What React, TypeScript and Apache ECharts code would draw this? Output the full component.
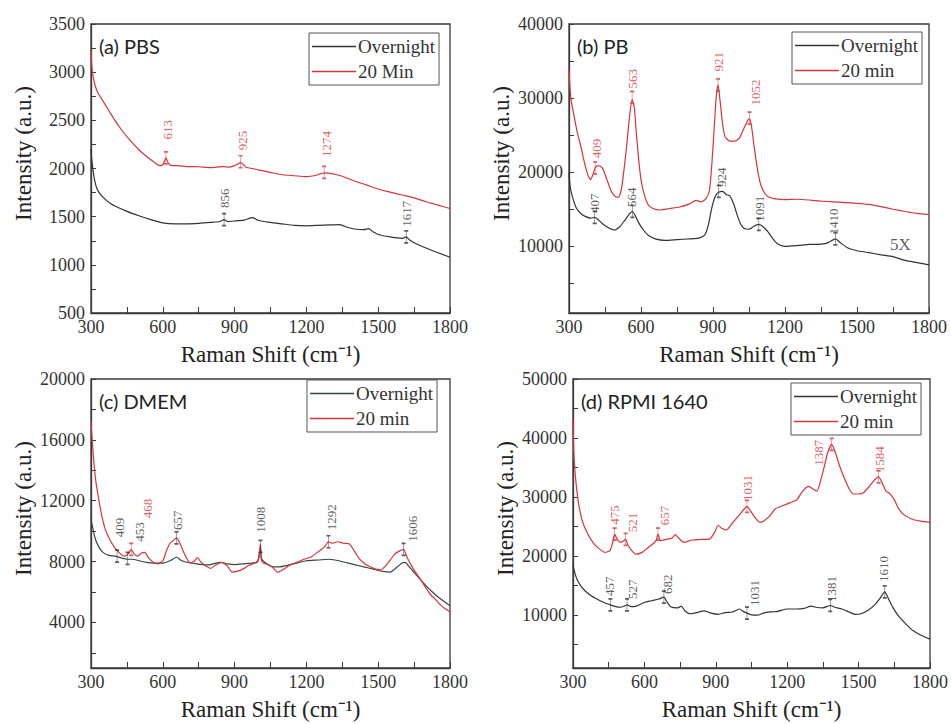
import React, { useEffect, useRef } from "react";
import * as echarts from "echarts";

// ---------- Data ----------
const xTicks = [300, 600, 900, 1200, 1500, 1800];

// (a) PBS
const pbsMin20: number[][] = [
  [300, 3220], [305, 3020], [315, 2880], [330, 2780], [350, 2700], [375, 2600], [400, 2500], [425, 2410],
  [450, 2330], [475, 2260], [500, 2195], [525, 2140], [550, 2090], [575, 2045], [590, 2030], [600, 2040],
  [607, 2080], [613, 2110], [620, 2070], [630, 2035], [650, 2030], [700, 2020], [750, 2018], [800, 2010],
  [850, 2020], [880, 2015], [900, 2030], [915, 2050], [925, 2060], [935, 2045], [950, 2010], [975, 2000],
  [1000, 1985], [1050, 1960], [1100, 1935], [1150, 1925], [1200, 1915], [1240, 1930], [1274, 1955],
  [1300, 1950], [1350, 1920], [1400, 1870], [1450, 1830], [1500, 1785], [1550, 1755], [1600, 1725],
  [1650, 1695], [1700, 1655], [1750, 1620], [1800, 1585],
];
const pbsOvernight: number[][] = [
  [300, 2200], [303, 2100], [308, 1990], [315, 1880], [325, 1790], [340, 1730], [360, 1680], [380, 1640],
  [400, 1610], [450, 1555], [500, 1510], [550, 1470], [600, 1435], [650, 1425], [700, 1425], [750, 1430],
  [800, 1440], [840, 1450], [856, 1470], [870, 1450], [900, 1455], [940, 1465], [975, 1490], [1000, 1460],
  [1050, 1440], [1100, 1425], [1150, 1410], [1200, 1405], [1250, 1410], [1300, 1415], [1340, 1418],
  [1370, 1390], [1400, 1372], [1440, 1365], [1460, 1375], [1480, 1340], [1500, 1315], [1550, 1290],
  [1600, 1275], [1617, 1290], [1630, 1260], [1650, 1230], [1700, 1175], [1750, 1125], [1800, 1080],
];
const pbsYLabels = [500, 1000, 1500, 2000, 2500, 3000, 3500];
const pbsYTicks = [500, 750, 1000, 1250, 1500, 1750, 2000, 2250, 2500, 2750, 3000, 3250, 3500];

// (b) PB
const pbMin20: number[][] = [
  [300, 33800], [305, 31000], [310, 29500], [320, 27800], [335, 25300], [350, 23400], [365, 21200],
  [380, 19500], [390, 19000], [400, 19700], [409, 20600], [420, 20900], [435, 20700], [445, 20200],
  [460, 18800], [475, 17500], [490, 16800], [505, 16600], [515, 17200], [525, 19200], [540, 23500],
  [550, 26800], [563, 29800], [572, 28800], [580, 25500], [590, 21800], [600, 19000], [615, 16800],
  [630, 15600], [650, 15100], [680, 14900], [720, 15100], [760, 15300], [800, 15700], [830, 16200],
  [850, 16000], [870, 16400], [885, 17500], [895, 21000], [905, 26000], [913, 30000], [921, 31800],
  [930, 29500], [940, 26500], [950, 24800], [970, 24200], [990, 24200], [1010, 24600], [1030, 26000],
  [1045, 27000], [1052, 27200], [1060, 26300], [1070, 23800], [1080, 21500], [1090, 19500], [1100, 18200],
  [1115, 17200], [1130, 16700], [1160, 16400], [1200, 16300], [1250, 16350], [1300, 16250], [1350, 16100],
  [1400, 16000], [1450, 15900], [1500, 15800], [1550, 15650], [1600, 15350], [1650, 15000], [1700, 14700],
  [1750, 14450], [1800, 14300],
];
const pbOvernight: number[][] = [
  [300, 19900], [305, 18000], [315, 16600], [330, 15200], [350, 14400], [370, 14000], [390, 13800],
  [407, 13900], [425, 13500], [445, 12900], [470, 12400], [490, 12200], [510, 12600], [530, 13400],
  [550, 14300], [564, 14700], [575, 14200], [590, 13200], [610, 12200], [630, 11500], [660, 11000],
  [700, 10800], [750, 10900], [800, 11000], [840, 11100], [865, 11500], [880, 12800], [895, 15200],
  [910, 16800], [924, 17300], [940, 17400], [955, 17000], [970, 16800], [985, 15800], [1000, 14300],
  [1015, 13000], [1030, 12400], [1050, 12300], [1070, 12700], [1091, 12950], [1110, 12600], [1130, 11900],
  [1150, 11000], [1170, 10300], [1200, 10000], [1250, 10100], [1300, 10250], [1350, 10300], [1380, 10500],
  [1410, 11000], [1430, 10500], [1460, 9800], [1500, 9400], [1550, 9150], [1600, 8850], [1650, 8600],
  [1700, 8100], [1750, 7800], [1800, 7500],
];
const pbYLabels = [10000, 20000, 30000, 40000];
const pbYTicks = [5000, 10000, 15000, 20000, 25000, 30000, 35000, 40000];

// (c) DMEM
const dmemMin20: number[][] = [
  [300, 17200], [305, 16000], [312, 14500], [320, 13300], [330, 12300], [345, 11000], [360, 10100],
  [380, 9400], [400, 8900], [420, 8550], [440, 8350], [455, 8500], [468, 8800], [480, 8500], [495, 8350],
  [510, 8550], [525, 8600], [540, 8250], [560, 7950], [580, 7850], [600, 8050], [615, 8700], [630, 9200],
  [645, 9400], [657, 9550], [670, 9250], [685, 8700], [700, 8200], [715, 7900], [730, 8000], [745, 8250],
  [760, 7950], [780, 7700], [800, 7550], [820, 7750], [845, 7950], [870, 7700], [890, 7300], [920, 7400],
  [940, 7550], [960, 7750], [985, 7900], [1000, 8150], [1005, 8700], [1008, 9150], [1012, 8100],
  [1020, 7900], [1040, 7800], [1060, 7600], [1080, 7300], [1100, 7450], [1130, 7750], [1160, 7950],
  [1190, 8150], [1220, 8300], [1250, 8650], [1275, 8950], [1292, 9300], [1310, 9200], [1330, 9300],
  [1355, 9200], [1380, 9150], [1400, 8700], [1420, 8200], [1440, 7900], [1460, 7700], [1490, 7500],
  [1510, 7450], [1530, 7700], [1550, 8100], [1570, 8500], [1590, 8700], [1606, 8800], [1620, 8300],
  [1640, 7700], [1660, 7200], [1680, 6750], [1700, 6250], [1720, 5800], [1740, 5500], [1760, 5150],
  [1780, 4900], [1800, 4700],
];
const dmemOvernight: number[][] = [
  [300, 10800], [310, 10000], [320, 9400], [335, 8900], [350, 8600], [375, 8400], [400, 8350], [425, 8250],
  [450, 8150], [475, 8150], [500, 8050], [530, 7950], [560, 7900], [600, 7900], [630, 8050], [657, 8280],
  [680, 8050], [700, 7950], [740, 7850], [780, 7780], [800, 7800], [840, 7950], [870, 7850], [900, 7800],
  [940, 7850], [970, 7900], [995, 7950], [1004, 8600], [1008, 9000], [1012, 8200], [1030, 7900],
  [1060, 7650], [1090, 7650], [1120, 7750], [1160, 7900], [1200, 8050], [1250, 8100], [1292, 8150],
  [1320, 8100], [1360, 7950], [1400, 7800], [1440, 7650], [1480, 7500], [1520, 7350], [1550, 7300],
  [1580, 7650], [1600, 7900], [1612, 7950], [1630, 7650], [1660, 7100], [1700, 6400], [1730, 5950],
  [1760, 5550], [1800, 5100],
];
const dmemYLabels = [4000, 8000, 12000, 16000, 20000];
const dmemYTicks = [2000, 4000, 6000, 8000, 10000, 12000, 14000, 16000, 18000, 20000];

// (d) RPMI 1640
const rpmiMin20: number[][] = [
  [300, 43500], [303, 38000], [308, 34500], [315, 31500], [325, 28500], [340, 25800], [360, 23900],
  [385, 22200], [410, 21200], [435, 20600], [455, 20900], [465, 22000], [475, 23700], [485, 22900],
  [500, 22300], [510, 22500], [521, 22800], [530, 21900], [545, 21000], [565, 20300], [590, 20600],
  [615, 21400], [640, 22200], [650, 22700], [657, 23700], [668, 22600], [690, 22800], [715, 23000],
  [730, 23600], [745, 23000], [765, 22300], [800, 22700], [840, 22800], [875, 22900], [895, 24000],
  [910, 25200], [925, 24700], [945, 24400], [970, 25600], [1000, 27000], [1020, 28000], [1031, 28400],
  [1045, 27700], [1065, 26500], [1085, 25700], [1100, 25900], [1125, 26700], [1150, 28000], [1180, 28500],
  [1210, 29000], [1240, 29500], [1265, 31000], [1290, 31800], [1310, 31300], [1325, 31000], [1340, 32700],
  [1355, 35000], [1370, 37500], [1387, 38900], [1400, 37800], [1420, 35300], [1440, 33200], [1460, 31400],
  [1480, 30500], [1500, 30500], [1520, 30700], [1545, 31800], [1565, 32800], [1584, 33400], [1600, 32300],
  [1615, 31000], [1630, 30600], [1650, 29500], [1670, 27900], [1690, 27000], [1720, 26300], [1760, 25900],
  [1800, 25700],
];
const rpmiOvernight: number[][] = [
  [300, 18400], [310, 16800], [320, 15800], [335, 14800], [350, 14100], [375, 13300], [400, 12700],
  [430, 12100], [457, 11700], [480, 11400], [500, 11300], [515, 11500], [527, 11700], [545, 11400],
  [565, 11500], [600, 12100], [630, 12400], [660, 12700], [682, 13000], [695, 12200], [710, 11400],
  [740, 11200], [755, 11500], [770, 10700], [790, 10200], [820, 10400], [850, 10700], [880, 10300],
  [910, 10100], [940, 10400], [970, 10500], [1000, 11000], [1015, 10600], [1031, 10300], [1050, 10000],
  [1075, 9950], [1100, 10300], [1130, 10500], [1160, 10600], [1200, 11000], [1240, 11000], [1270, 11100],
  [1300, 11500], [1320, 11300], [1350, 11200], [1381, 11600], [1400, 11300], [1430, 11000], [1460, 10500],
  [1485, 10100], [1510, 10200], [1540, 10800], [1570, 11800], [1590, 12800], [1610, 13900], [1625, 12800],
  [1645, 11200], [1670, 9700], [1700, 8400], [1730, 7300], [1760, 6600], [1800, 5900],
];
const rpmiYLabels = [10000, 20000, 30000, 40000, 50000];
const rpmiYTicks = [5000, 10000, 15000, 20000, 25000, 30000, 35000, 40000, 45000, 50000];

// Peak annotations: text, peak x, peak y (marker), label x, label base y, which curve ("r" 20 min / "k" overnight)
const pbsPeaks = [
  ["613", 613, 2110, 619, 2300, "r"], ["925", 925, 2070, 934, 2190, "r"], ["1274", 1274, 1960, 1282, 2120, "r"],
  ["856", 856, 1470, 857, 1590, "k"], ["1617", 1617, 1290, 1617, 1395, "k"],
];
const pbPeaks = [
  ["409", 409, 20600, 415, 21900, "r"], ["563", 563, 30100, 566, 31300, "r"], ["921", 921, 31800, 924, 33600, "r"],
  ["1052", 1052, 27300, 1076, 29000, "r"], ["407", 407, 13900, 407, 14500, "k"], ["564", 564, 14700, 562, 15300, "k"],
  ["924", 924, 17400, 934, 18000, "k"], ["1091", 1091, 12950, 1094, 13300, "k"], ["1410", 1410, 11000, 1400, 11600, "k"],
];
const dmemPeaks = [
  ["409", 409, 8350, 418, 9600, "k"], ["453", 453, 8200, 502, 9300, "k"], ["468", 468, 8800, 537, 10850, "r"],
  ["657", 657, 9550, 660, 10080, "k"], ["1008", 1008, 9000, 1007, 9900, "k"], ["1292", 1292, 9300, 1305, 10050, "k"],
  ["1606", 1606, 8800, 1642, 9300, "k"],
];
const rpmiPeaks = [
  ["475", 475, 23700, 473, 25300, "r"], ["521", 521, 22800, 548, 24000, "r"], ["657", 657, 23700, 684, 25200, "r"],
  ["1031", 1031, 28400, 1033, 29300, "r"], ["1387", 1387, 38900, 1330, 35300, "r"], ["1584", 1584, 33400, 1588, 34200, "r"],
  ["457", 457, 11700, 452, 13200, "k"], ["527", 527, 11700, 548, 12700, "k"], ["682", 682, 13000, 698, 13550, "k"],
  ["1031", 1031, 10300, 1062, 11500, "k"], ["1381", 1381, 11600, 1387, 12200, "k"], ["1610", 1610, 13900, 1605, 15600, "k"],
];
const pbScaleNote = [[1637, 10300, "5X"]];

// ---------- Styling ----------
const SERIF = "Liberation Serif";
const SANS = "Lato";
const RED = "#d8343c";
const BLACK = "#333333";
const AXIS = "#3a3a3a";

const panels = [
  { title: "(a) PBS", minName: "20 Min", red: pbsMin20, black: pbsOvernight, peaks: pbsPeaks,
    yMin: 500, yMax: 3500, yLabels: pbsYLabels, yTicks: pbsYTicks,
    grid: { left: 91, top: 24, width: 359, height: 289 }, legend: { left: 309, top: 33 }, blackColor: BLACK },
  { title: "(b) PB", minName: "20 min", red: pbMin20, black: pbOvernight, peaks: pbPeaks,
    yMin: 1000, yMax: 40000, yLabels: pbYLabels, yTicks: pbYTicks,
    grid: { left: 569, top: 24, width: 360, height: 289 }, legend: { left: 792, top: 32 }, blackColor: BLACK },
  { title: "(c) DMEM", minName: "20 min", red: dmemMin20, black: dmemOvernight, peaks: dmemPeaks,
    yMin: 1000, yMax: 20000, yLabels: dmemYLabels, yTicks: dmemYTicks,
    grid: { left: 91, top: 379, width: 359, height: 289 }, legend: { left: 307, top: 380 }, blackColor: "#34463c" },
  { title: "(d) RPMI 1640", minName: "20 min", red: rpmiMin20, black: rpmiOvernight, peaks: rpmiPeaks,
    yMin: 1000, yMax: 50000, yLabels: rpmiYLabels, yTicks: rpmiYTicks,
    grid: { left: 573, top: 379, width: 359, height: 289 }, legend: { left: 791, top: 383 }, blackColor: BLACK },
];

const markerPath = "path://M0,0L8,0M4,0L4,30M0,30L8,30";
const plain = (v: number) => String(v);

function buildOption() {
  const grid: any[] = [];
  const xAxis: any[] = [];
  const yAxis: any[] = [];
  const series: any[] = [];
  const legend: any[] = [];
  const title: any[] = [];

  panels.forEach((p, i) => {
    grid.push({ ...p.grid, show: true, borderColor: AXIS, borderWidth: 1.3, backgroundColor: "transparent" });
    xAxis.push({
      type: "value", gridIndex: i, min: 300, max: 1800, interval: 300,
      axisLine: { show: true, lineStyle: { color: AXIS, width: 1.3 } },
      axisTick: { show: true, inside: true, length: 6, lineStyle: { color: AXIS } },
      minorTick: { show: true, splitNumber: 2, length: 6, lineStyle: { color: AXIS } },
      splitLine: { show: false },
      axisLabel: { fontFamily: SERIF, fontSize: 18, color: "#333", margin: 5, formatter: plain },
      name: "Raman Shift (cm\u207B\u00B9)", nameLocation: "middle", nameGap: 30,
      nameTextStyle: { fontFamily: SERIF, fontSize: 23, color: "#222" },
    });
    yAxis.push({
      type: "value", gridIndex: i, min: p.yMin, max: p.yMax,
      axisLine: { show: true, lineStyle: { color: AXIS, width: 1.3 } },
      axisTick: { show: true, inside: true, length: 5, lineStyle: { color: AXIS }, customValues: p.yTicks },
      splitLine: { show: false },
      axisLabel: { fontFamily: SERIF, fontSize: 18, color: "#333", margin: 6, customValues: p.yLabels, formatter: plain },
      name: "Intensity (a.u.)", nameLocation: "middle", nameGap: 56,
      nameTextStyle: { fontFamily: SERIF, fontSize: 23, color: "#222", padding: [0, 0, 0, 30] },
    });
    series.push({
      type: "line", name: "Overnight", xAxisIndex: i, yAxisIndex: i, data: p.black,
      showSymbol: false, symbol: "none", smooth: 0.2, color: p.blackColor,
      lineStyle: { width: 1.2, color: p.blackColor }, z: 3,
    });
    series.push({
      type: "line", name: p.minName, xAxisIndex: i, yAxisIndex: i, data: p.red,
      showSymbol: false, symbol: "none", smooth: 0.2, color: RED,
      lineStyle: { width: 1.2, color: RED }, z: 4,
    });
    series.push({
      type: "scatter", name: "peaks" + i, xAxisIndex: i, yAxisIndex: i, z: 5, silent: true,
      symbol: markerPath, symbolSize: [4, 12],
      data: p.peaks.map((a: any) => ({
        value: [a[1], a[2]],
        itemStyle: { color: "transparent", borderColor: a[5] === "r" ? RED : BLACK, borderWidth: 1 },
      })),
    });
    series.push({
      type: "scatter", name: "peakLabels" + i, xAxisIndex: i, yAxisIndex: i, z: 6, silent: true,
      symbolSize: 0,
      data: p.peaks.map((a: any) => ({
        value: [a[3], a[4]],
        label: { color: a[5] === "r" ? RED : "#333" },
      })),
      label: {
        show: true, position: "inside", rotate: 90, align: "left", verticalAlign: "middle",
        fontFamily: SERIF, fontSize: 13,
        formatter: (prm: any) => p.peaks[prm.dataIndex][0],
      },
    });
    legend.push({
      show: true, orient: "vertical",
      data: [
        { name: "Overnight", icon: "rect", itemStyle: { color: p.blackColor } },
        { name: p.minName, icon: "rect", itemStyle: { color: RED } },
      ],
      left: p.legend.left, top: p.legend.top, selectedMode: false,
      borderColor: "#555", borderWidth: 1, borderRadius: 0, padding: [3, 4, 3, 3],
      itemGap: 4, itemWidth: 44, itemHeight: 1.5,
      textStyle: { fontFamily: SERIF, fontSize: 19, color: "#333", padding: [0, 0, 0, -3], lineHeight: 21 },
    });
    title.push({
      text: p.title, left: p.grid.left + 3, top: p.grid.top + 7,
      textStyle: { fontFamily: SANS, fontSize: 20, fontWeight: "normal", color: "#222" },
    });
  });

  series.push({
    type: "scatter", name: "scaleNote", xAxisIndex: 1, yAxisIndex: 1, symbolSize: 0, silent: true,
    data: pbScaleNote.map((n) => [n[0], n[1]]),
    label: {
      show: true, position: "inside", align: "left", verticalAlign: "middle",
      fontFamily: SERIF, fontSize: 17, color: "#333",
      formatter: (prm: any) => String(pbScaleNote[prm.dataIndex][2]),
    },
  });

  return {
    animation: false, backgroundColor: "#ffffff",
    textStyle: { fontFamily: SERIF },
    grid, xAxis, yAxis, series, legend, title,
  };
}

export default function App() {
  const ref = useRef<HTMLDivElement>(null);
  useEffect(() => {
    if (!ref.current) return;
    const chart = echarts.init(ref.current, null, { renderer: "svg" });
    chart.setOption(buildOption() as any);
    return () => chart.dispose();
  }, []);
  return (
    <div
      ref={ref}
      style={{ position: "absolute", left: 0, top: 0, width: 951, height: 724, background: "#fff" }}
    />
  );
}
